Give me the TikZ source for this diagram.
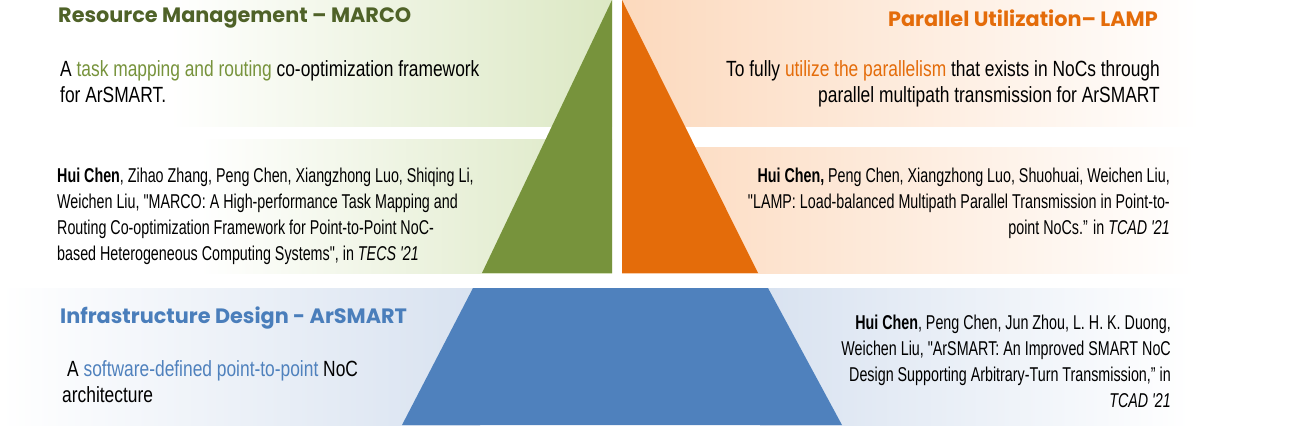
\documentclass[tikz,border=0pt]{standalone}
\usepackage{fontspec}
\newfontfamily\bodyfont[FakeStretch=0.79]{Liberation Sans}
\newfontfamily\citefont[FakeStretch=0.715]{Liberation Sans}
\newfontfamily\titlefont{Poppins}
\definecolor{gdark}{HTML}{77933C}
\definecolor{gtitle}{HTML}{4F6228}
\definecolor{glight}{HTML}{DCE8C4}
\definecolor{odark}{HTML}{E46C0A}
\definecolor{olight}{HTML}{FCD9BD}
\definecolor{bdark}{HTML}{4F81BD}
\definecolor{blight}{HTML}{D8E2F0}
\definecolor{btitle}{HTML}{4A7EBB}
\begin{document}
\begin{tikzpicture}[x=1pt,y=-1pt,
  body/.style={font=\bodyfont\fontsize{22}{26}\selectfont, inner sep=0pt, text=black},
  cite/.style={font=\citefont\fontsize{20}{25.8}\selectfont, inner sep=0pt, text=black},
  ttl/.style={font=\titlefont\bfseries\fontsize{20.8}{24}\selectfont, inner sep=0pt}]
\useasboundingbox (0,0) rectangle (1293,428);
% background bands
\shade[left color=white,right color=glight] (170,0) rectangle (612,126);
\shade[left color=white,right color=glight] (200,139) rectangle (612,273);
\shade[left color=olight,right color=white] (622,0) rectangle (1200,126);
\shade[left color=olight,right color=white] (622,147) rectangle (1195,273);
\shade[left color=white,right color=blight] (0,288) rectangle (480,425);
\shade[left color=blight,right color=white] (760,288) rectangle (1190,425);
% pyramid shapes
\fill[gdark] (612,0) -- (612,273) -- (482,273) -- cycle;
\fill[odark] (622,0) -- (622,273) -- (758,273) -- cycle;
\fill[bdark] (473,288) -- (768,288) -- (842,425) -- (402,425) -- cycle;
% green block
\node[ttl, text=gtitle, anchor=west] (t1) at (58,18) {Resource Management – MARCO};
\node[body, anchor=north west, align=left] (d1) at (60,60)
  {A \textcolor{gdark}{task mapping and routing} co-optimization framework\\for ArSMART.};
\node[cite, anchor=north west, align=left] (r1) at (57,168)
  {\textbf{Hui Chen}, Zihao Zhang, Peng Chen, Xiangzhong Luo, Shiqing Li,\\
   Weichen Liu, "MARCO: A High-performance Task Mapping and\\
   Routing Co-optimization Framework for Point-to-Point NoC-\\
   based Heterogeneous Computing Systems", in \textit{TECS '21}};
% orange block
\node[ttl, text=odark, anchor=east] (t2) at (1158,18) {Parallel Utilization– LAMP};
\node[body, anchor=north east, align=right] (d2) at (1160,60)
  {To fully \textcolor{odark}{utilize the parallelism} that exists in NoCs through\\
   parallel multipath transmission for ArSMART};
\node[cite, anchor=north east, align=right] (r2) at (1170,168)
  {\textbf{Hui Chen,} Peng Chen, Xiangzhong Luo, Shuohuai, Weichen Liu,\\
   "LAMP: Load-balanced Multipath Parallel Transmission in Point-to-\\
   point NoCs.” in \textit{TCAD '21}};
% blue block
\node[ttl, text=btitle, anchor=west] (t3) at (60,318) {Infrastructure Design - ArSMART};
\node[body, anchor=north west, align=left] (d3) at (62,360)
  {\hspace{5pt}A \textcolor{bdark}{software-defined point-to-point} NoC\\architecture};
\node[cite, anchor=north east, align=right] (r3) at (1171,315)
  {\textbf{Hui Chen}, Peng Chen, Jun Zhou, L. H. K. Duong,\\
   Weichen Liu, "ArSMART: An Improved SMART NoC\\
   Design Supporting Arbitrary-Turn Transmission,” in\\
   \textit{TCAD '21}};
\end{tikzpicture}
\end{document}
